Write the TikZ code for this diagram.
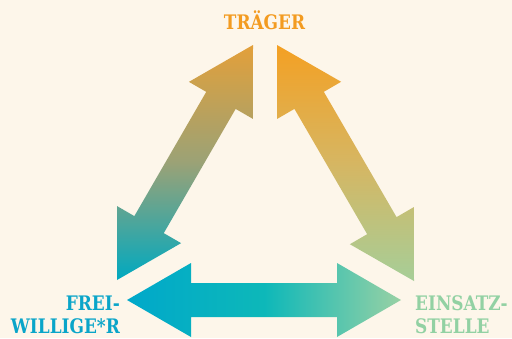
\documentclass[tikz,border=0pt]{standalone}
\usepackage{fontspec}
\setmainfont[FakeStretch=0.94]{DejaVu Serif Condensed}
\usetikzlibrary{calc}
\definecolor{bg}{HTML}{FDF6EA}
\definecolor{orangeA}{HTML}{F4A023}
\definecolor{goldA}{HTML}{E3A03A}
\definecolor{oliveA}{HTML}{9BA276}
\definecolor{tealA}{HTML}{00A9C0}
\definecolor{cyanA}{HTML}{00A8CA}
\definecolor{tealM}{HTML}{0DB8B9}
\definecolor{greenA}{HTML}{98D1A4}
\definecolor{greenB}{HTML}{A6CE98}
\definecolor{sandA}{HTML}{D6B662}
\definecolor{txtOrange}{HTML}{F39B20}
\definecolor{txtBlue}{HTML}{0AA5C9}
\definecolor{txtGreen}{HTML}{92D1A3}
\newcommand\dblarrow[3]{%
  \coordinate (#1b) at ($(#1)!64pt!(#2)$);
  \coordinate (#2b) at ($(#2)!64pt!(#1)$);
  \shade[#3] (#1) -- ($(#1b)!37pt!90:(#2)$) -- ($(#1b)!17pt!90:(#2)$)
    -- ($(#2b)!17pt!-90:(#1)$) -- ($(#2b)!37pt!-90:(#1)$) -- (#2)
    -- ($(#2b)!37pt!90:(#1)$) -- ($(#2b)!17pt!90:(#1)$)
    -- ($(#1b)!17pt!-90:(#2)$) -- ($(#1b)!37pt!-90:(#2)$) -- cycle;}
\tikzset{
  lbl/.style={inner sep=0pt, font=\fontsize{20}{24}\selectfont\bfseries}
}
\begin{document}
\begin{tikzpicture}[x=1pt,y=-1pt]
\useasboundingbox[fill=bg] (0,0) rectangle (512,338);
\coordinate (fwA) at (117,280);
\coordinate (trA) at (253,45);
\coordinate (trB) at (277,45);
\coordinate (esA) at (414,281);
\coordinate (fwB) at (127,300);
\coordinate (esB) at (401,300);
\dblarrow{fwA}{trA}{top color=goldA, bottom color=tealA, middle color=oliveA}
\dblarrow{trB}{esA}{top color=orangeA, bottom color=greenB, middle color=sandA}
\dblarrow{fwB}{esB}{left color=cyanA, right color=greenA, middle color=tealM}
\node[lbl, text=txtOrange, anchor=base] (trager) at (264.5,29) {TRÄGER};
\node[lbl, text=txtBlue, anchor=base east] (frei) at (120,310) {FREI-};
\node[lbl, text=txtBlue, anchor=base east] (willige) at (120,333) {WILLIGE*R};
\node[lbl, text=txtGreen, anchor=base west] (einsatz) at (415,310) {EINSATZ-};
\node[lbl, text=txtGreen, anchor=base west] (stelle) at (415,333) {STELLE};
\end{tikzpicture}
\end{document}
